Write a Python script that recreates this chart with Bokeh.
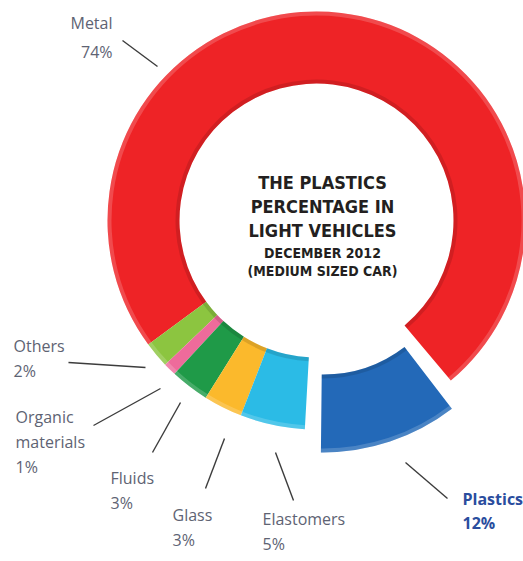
import numpy as np
from bokeh.plotting import figure
from bokeh.models import Range1d, ColumnDataSource
from bokeh.core.properties import value
from bokeh.embed import file_html
from bokeh.resources import INLINE

# ---- data ----
categories = ["Metal", "Others", "Organic materials", "Fluids", "Glass", "Elastomers", "Plastics"]
shares = [74, 2, 1, 3, 3, 5, 12]
label_texts = ["Metal", "Others", "Organic\nmaterials", "Fluids", "Glass", "Elastomers", "Plastics"]
colors = ["#ee2326", "#8cc540", "#ee6b9b", "#1f9a48", "#fbb92c", "#2bbbe6", "#2369b8"]
title_lines = ["THE PLASTICS", "PERCENTAGE IN", "LIGHT VEHICLES"]
subtitle_lines = ["DECEMBER 2012", "(MEDIUM SIZED CAR)"]

W, H = 523, 561

def Y(ypix):
    return H - ypix

p = figure(width=W, height=H, output_backend="svg", toolbar_location=None,
           x_range=Range1d(0, W), y_range=Range1d(0, H),
           x_axis_location=None, y_axis_location=None,
           min_border=0, outline_line_color=None)
p.grid.visible = False
p.background_fill_color = "white"
p.border_fill_color = "white"

cx, cy = 316, Y(220)
r_in, r_out = 137, 209
start0 = np.deg2rad(-50.0)

fr = np.array(shares, dtype=float) / sum(shares)
ends = start0 + np.cumsum(fr) * 2 * np.pi
starts = np.concatenate([[start0], ends[:-1]])

explode = [0, 0, 0, 0, 0, 0, 21]
pad = [0, 0, 0, 0, 0, 0, np.deg2rad(2.6)]
mids = (starts + ends) / 2
xs = cx + np.array(explode) * np.cos(mids)
ys = cy + np.array(explode) * np.sin(mids)
st = starts + np.array(pad)
en = ends - np.array(pad)
rin = [r_in] * 6 + [134]
rout = [r_out] * 6 + [212]

src = ColumnDataSource(dict(x=xs, y=ys, s=st, e=en, ri=rin, ro=rout, c=colors, name=categories))
p.annular_wedge(x="x", y="y", inner_radius="ri", outer_radius="ro",
                start_angle="s", end_angle="e", fill_color="c", line_color=None, source=src)
# bevel: light outer rim, dark inner rim
rim = ColumnDataSource(dict(x=xs, y=ys, s=st, e=en,
                            ro=np.array(rout, float), ro2=np.array(rout, float) - 4,
                            ri=np.array(rin, float), ri2=np.array(rin, float) + 4))
p.annular_wedge(x="x", y="y", inner_radius="ro2", outer_radius="ro", start_angle="s", end_angle="e",
                fill_color="white", fill_alpha=0.18, line_color=None, source=rim)
p.annular_wedge(x="x", y="y", inner_radius="ri", outer_radius="ri2", start_angle="s", end_angle="e",
                fill_color="black", fill_alpha=0.12, line_color=None, source=rim)

# ---- leader lines (pixel positions) ----
lines = [((122, 40), (157, 66)),
         ((68, 362), (145, 367)),
         ((93, 425), (160, 388)),
         ((152, 452), (180, 402)),
         ((205, 488), (224, 438)),
         ((275, 452), (293, 500)),
         ((405, 462), (447, 498))]
p.multi_line(xs=[[a[0], b[0]] for a, b in lines], ys=[[Y(a[1]), Y(b[1])] for a, b in lines],
             line_color="#3c3c3c", line_width=1.4)

# ---- labels ----
grey = "#5e6373"
font = value("Open Sans")
lab = [  # (x, baseline y of first line, align, line gap)
    (112, 22, "right", 29),
    (13, 345, "left", 25),
    (15, 416, "left", 25),
    (110, 477, "left", 25),
    (172, 514, "left", 25),
    (262, 518, "left", 25),
    (462, 498, "left", 24),
]
for i, (lx, ly, al, gap) in enumerate(lab):
    rows = label_texts[i].split("\n") + ["%d%%" % shares[i]]
    col = "#2a4d9e" if categories[i] == "Plastics" else grey
    sty = "bold" if categories[i] == "Plastics" else "normal"
    p.text(x=[lx] * len(rows), y=[Y(ly + k * gap) for k in range(len(rows))], text=rows,
           text_font=font, text_font_size="16px", text_color=col, text_align=al,
           text_baseline="alphabetic", text_font_style=sty)

# ---- centre title ----
tfont = value("'DejaVu Sans Condensed', Roboto, sans-serif")
p.text(x=[322] * 3, y=[Y(182), Y(206), Y(230)], text=title_lines, text_font=tfont,
       text_font_size="18px", text_font_style="bold", text_color="#231f20",
       text_align="center", text_baseline="alphabetic")
p.text(x=[322] * 2, y=[Y(252), Y(270)], text=subtitle_lines, text_font=tfont,
       text_font_size="14px", text_font_style="bold", text_color="#231f20",
       text_align="center", text_baseline="alphabetic")

open("out.html", "w").write(file_html(p, INLINE))
